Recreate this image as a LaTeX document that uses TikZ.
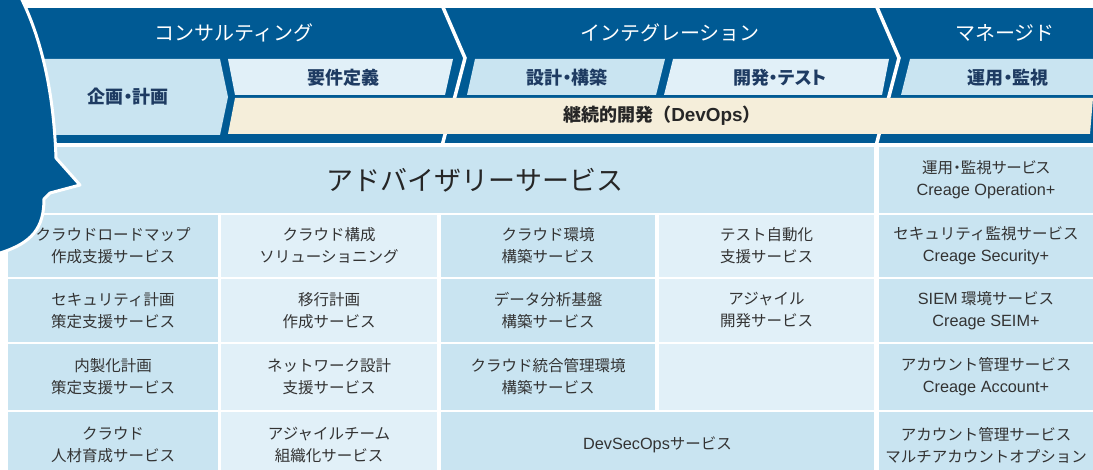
\documentclass[tikz,border=0pt]{standalone}
\usepackage{fontspec}
\setmainfont{Noto Sans CJK JP}
\newfontfamily\jpp[RawFeature=+palt]{Noto Sans CJK JP}
\newfontfamily\en[Scale=1.05]{Liberation Sans}
\usepackage{tikz}
\usetikzlibrary{positioning}
\definecolor{bandblue}{HTML}{005A94}
\definecolor{cellblue}{HTML}{C9E4F1}
\definecolor{cellpale}{HTML}{E1F0F8}
\definecolor{devcream}{HTML}{F5EEDA}
\definecolor{navy}{HTML}{1E3B62}
\definecolor{gridtext}{HTML}{333333}

\begin{document}
\begin{tikzpicture}[x=1pt, y=-1pt,
        cellA/.style={fill=cellblue, inner sep=0pt, outer sep=0pt, align=center,
          text=gridtext, font=\fontsize{15.5}{22}\selectfont},
        cellB/.style={cellA, fill=cellpale},
        phase/.style={text=white, font=\fontsize{20}{24}\selectfont},
        stage/.style={text=navy, font=\jpp\bfseries\fontsize{18}{22}\selectfont},
        sepline/.style={white, line width=3.5pt}]

        \useasboundingbox (0,0) rectangle (1093,470);
        \clip (0,0) rectangle (1093,470);

        %% band
        \fill[bandblue] (0,8) rectangle (1093,143);
        \draw[sepline] (442,5) -- (465,58) -- (442,146);
        \draw[sepline] (876,5) -- (899,58) -- (876,146);

        \fill[cellblue] (0,59) -- (220,59) -- (228,97) -- (220,135) -- (0,135) -- cycle;
        \fill[cellpale] (228,59) -- (453,59) -- (445,95) -- (235,95) -- cycle;
        \fill[cellblue] (475,59) -- (665,59) -- (656,95) -- (467,95) -- cycle;
        \fill[cellpale] (673,59) -- (889,59) -- (882,95) -- (664,95) -- cycle;
        \fill[cellblue] (910,59) -- (1093,59) -- (1093,95) -- (901,95) -- cycle;
        \fill[devcream] (235,98) -- (1093,98) -- (1090,134) -- (228,134) -- cycle;

        \node (consult)[phase] at (234,33) {コンサルティング};
        \node (integ)[phase] at (670,33) {インテグレーション};
        \node (managed)[phase] at (1005,33) {マネージド};

        \node (kikaku)[stage] at (128,97) {企画・計画};
        \node (youken)[stage] at (343,78) {要件定義};
        \node (sekkei)[stage] at (567,78) {設計・構築};
        \node (kaihatsu)[stage] at (780,78) {開発・テスト};
        \node (unyou)[stage] at (1008,78) {運用・監視};
        \node (devops)[stage, text=black!85, font=\bfseries\fontsize{18}{22}\selectfont] at (662,116)
              {継続的開発（{\en DevOps}）};

        %% advisory row
        \fill[cellblue] (8,147) rectangle (874,213);
        \node (advisory)[text=black!85, font=\fontsize{27}{30}\selectfont] at (475,180) {アドバイザリーサービス};
        \node (opsvc)[cellA, minimum width=214pt, minimum height=66pt] at (986,180)
              {{\jpp 運用・監視サービス}\\{\en Creage Operation+}};

        %% grid
        \node (cell11)[cellA, minimum width=210pt, minimum height=62pt] at (113,246)
              {クラウドロードマップ\\作成支援サービス};
        \node (cell21)[cellA, minimum width=210pt, minimum height=63pt, below=2pt of cell11]
              {セキュリティ計画\\策定支援サービス};
        \node (cell31)[cellA, minimum width=210pt, minimum height=66pt, below=2pt of cell21]
              {内製化計画\\策定支援サービス};
        \node (cell41)[cellA, minimum width=210pt, minimum height=66pt, below=2pt of cell31]
              {クラウド\\人材育成サービス};

        \node (cell12)[cellB, minimum width=216pt, minimum height=62pt] at (329,246)
              {クラウド構成\\ソリューショニング};
        \node (cell22)[cellB, minimum width=216pt, minimum height=63pt, below=2pt of cell12]
              {移行計画\\作成サービス};
        \node (cell32)[cellB, minimum width=216pt, minimum height=66pt, below=2pt of cell22]
              {ネットワーク設計\\支援サービス};
        \node (cell42)[cellB, minimum width=216pt, minimum height=66pt, below=2pt of cell32]
              {アジャイルチーム\\組織化サービス};

        \node (cell13)[cellA, minimum width=214pt, minimum height=62pt] at (548,246)
              {クラウド環境\\構築サービス};
        \node (cell23)[cellA, minimum width=214pt, minimum height=63pt, below=2pt of cell13]
              {データ分析基盤\\構築サービス};
        \node (cell33)[cellA, minimum width=214pt, minimum height=66pt, below=2pt of cell23]
              {クラウド統合管理環境\\構築サービス};
        \node (devsecops)[cellA, minimum width=433pt, minimum height=66pt,
              below=2pt of cell33.south west, anchor=north west]
              {{\en DevSecOps}サービス};

        \node (cell14)[cellB, minimum width=215pt, minimum height=62pt] at (766.5,246)
              {テスト自動化\\支援サービス};
        \node (cell24)[cellB, minimum width=215pt, minimum height=63pt, below=2pt of cell14]
              {アジャイル\\開発サービス};
        \node (cell34)[cellB, minimum width=215pt, minimum height=66pt, below=2pt of cell24] {};

        \node (cell15)[cellA, minimum width=214pt, minimum height=62pt] at (986,246)
              {セキュリティ監視サービス\\{\en Creage Security+}};
        \node (cell25)[cellA, minimum width=214pt, minimum height=63pt, below=2pt of cell15]
              {{\en SIEM} 環境サービス\\{\en Creage SEIM+}};
        \node (cell35)[cellA, minimum width=214pt, minimum height=66pt, below=2pt of cell25]
              {アカウント管理サービス\\{\en Creage Account+}};
        \node (cell45)[cellA, minimum width=214pt, minimum height=66pt, below=2pt of cell35]
              {アカウント管理サービス\\マルチアカウントオプション};

        %% speech bubble at the left
        \filldraw[fill=bandblue, draw=white, line width=3pt, line join=round]
              (-10,-10) -- (17,-10) .. controls (44,40) and (54,100) .. (56,158)
              -- (80,185) -- (50,193) -- (44,199) .. controls (44,228) and (32,243) .. (0,253)
              -- (-10,255) -- cycle;

      \end{tikzpicture}
\end{document}
